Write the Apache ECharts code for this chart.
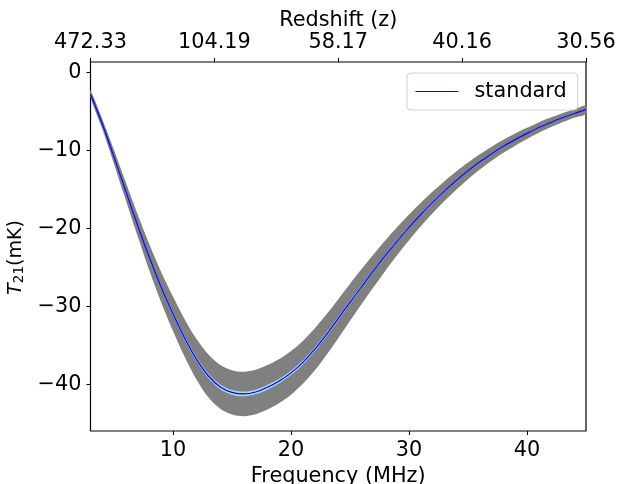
<!DOCTYPE html>
<html>
<head>
<meta charset="utf-8">
<script src="https://cdn.jsdelivr.net/npm/echarts@6/dist/echarts.min.js"></script>
<style>
  html, body { margin: 0; padding: 0; background: #fff; }
  #chart { width: 617px; height: 484px; }
</style>
</head>
<body>
<div id="chart"></div>
<script>
// frequency grid (MHz)
var freq = [3, 4, 5, 6, 7, 8, 9, 10, 11, 12, 13, 14, 15, 16, 17, 18, 19, 20, 21, 22, 23, 24,
  25, 26, 27, 28, 29, 30, 31, 32, 33, 34, 35, 36, 37, 38, 39, 40, 41, 42, 43, 44, 45];
// standard T21 (mK)
var t21 = [-2.8, -6.65, -10.9, -15.3, -19.65, -23.8, -27.6, -31.0, -34.15, -36.85, -38.95,
  -40.35, -41.05, -41.25, -41.0, -40.4, -39.6, -38.55, -37.2, -35.55, -33.65, -31.6, -29.5,
  -27.45, -25.45, -23.5, -21.65, -19.9, -18.25, -16.7, -15.25, -13.9, -12.65, -11.5, -10.45,
  -9.5, -8.65, -7.85, -7.1, -6.45, -5.85, -5.3, -4.8];
// half width of the grey band (mK)
var grayHalf = [0.45, 0.65, 0.9, 1.15, 1.4, 1.7, 1.95, 2.2, 2.4, 2.6, 2.75, 2.8, 2.85, 2.85, 2.85,
  2.85, 2.82, 2.8, 2.75, 2.7, 2.6, 2.5, 2.38, 2.25, 2.1, 1.95, 1.8, 1.66, 1.52, 1.4, 1.28, 1.17,
  1.07, 0.98, 0.9, 0.83, 0.77, 0.71, 0.66, 0.62, 0.58, 0.55, 0.52];
// half width of the light blue band (mK)
var blueHalf = [0.03, 0.06, 0.09, 0.12, 0.15, 0.18, 0.2, 0.22, 0.24, 0.26, 0.28, 0.29, 0.3,
  0.3, 0.3, 0.3, 0.29, 0.28, 0.27, 0.26, 0.24, 0.22, 0.21, 0.2, 0.18, 0.17, 0.16, 0.15,
  0.14, 0.13, 0.12, 0.11, 0.1, 0.09, 0.08, 0.08, 0.07, 0.06, 0.06, 0.05, 0.05, 0.05, 0.04];

var xTicks = [10, 20, 30, 40];
var yTicks = [0, -10, -20, -30, -40];
var zTickFreq = [3, 13.5, 24, 34.5, 45];
var zTickLabels = ["472.33", "104.19", "58.17", "40.16", "30.56"];

var FONT = "DejaVu Sans";
var FS = 20.8;

function pairs(vals) {
  return freq.map(function (f, i) { return [f, vals[i]]; });
}
function offset(vals, half, sign) {
  return vals.map(function (v, i) { return v + sign * half[i]; });
}

function minus(v) {
  return v < 0 ? "\u2212" + (-v) : String(v);
}

// filled band between two curves, drawn as one polygon
function band(name, low, high, color) {
  return {
    name: name,
    type: "custom",
    coordinateSystem: "cartesian2d",
    data: [[freq[0], low[0]]],
    clip: true,
    silent: true,
    z: 2,
    renderItem: function (params, api) {
      var pts = [];
      for (var i = 0; i < freq.length; i++) pts.push(api.coord([freq[i], high[i]]));
      for (var j = freq.length - 1; j >= 0; j--) pts.push(api.coord([freq[j], low[j]]));
      return {
        type: "polygon",
        shape: { points: pts, smooth: 0.3 },
        style: { fill: color, stroke: null }
      };
    }
  };
}

var tickStyle = { color: "#000", width: 1 };

var chart = echarts.init(document.getElementById("chart"));
chart.setOption({
  animation: false,
  backgroundColor: "#fff",
  textStyle: { fontFamily: FONT, color: "#000" },
  grid: {
    left: 90.5, right: 31, top: 62, bottom: 53,
    outerBoundsMode: "none",
    show: true, borderColor: "#000", borderWidth: 1.2, backgroundColor: "transparent"
  },
  legend: {
    data: ["standard"],
    left: 407, top: 73,
    padding: [8, 11, 8, 8],
    itemWidth: 43, itemHeight: 14,
    itemStyle: { opacity: 0 },
    lineStyle: { color: "#0000ff", width: 1 },
    backgroundColor: "rgba(255,255,255,0.8)",
    borderColor: "#d0d0d0", borderWidth: 1, borderRadius: 4,
    textStyle: { fontFamily: FONT, fontSize: FS, color: "#000", padding: [0, 0, 0, 11] }
  },
  xAxis: [
    {
      type: "value", position: "bottom", min: 3, max: 45,
      name: "Frequency (MHz)", nameLocation: "middle", nameGap: 35,
      nameTextStyle: { fontFamily: FONT, fontSize: FS, color: "#000" },
      axisLine: { show: false, onZero: false },
      splitLine: { show: false },
      axisTick: { show: true, length: 4, customValues: xTicks, lineStyle: tickStyle },
      axisLabel: { customValues: xTicks, margin: 9, fontFamily: FONT, fontSize: FS, color: "#000" }
    },
    {
      type: "value", position: "top", min: 3, max: 45,
      name: "Redshift (z)", nameLocation: "middle", nameGap: 41, nameMoveOverlap: false,
      nameTextStyle: { fontFamily: FONT, fontSize: FS, color: "#000", verticalAlign: "middle" },
      axisLine: { show: false, onZero: false },
      splitLine: { show: false },
      axisTick: { show: true, length: 4, customValues: zTickFreq, lineStyle: tickStyle },
      axisLabel: {
        customValues: zTickFreq, margin: 9, fontFamily: FONT, fontSize: FS, color: "#000",
        formatter: function (v) {
          var i = zTickFreq.indexOf(v);
          return i >= 0 ? zTickLabels[i] : "";
        }
      }
    }
  ],
  yAxis: {
    type: "value", min: -46, max: 1.3,
    name: "{i|T}{s|21}{n|(mK)}", nameLocation: "middle", nameGap: 52, nameRotate: 90,
    nameTextStyle: {
      padding: [0, 22, 0, 0],
      rich: {
        i: { fontFamily: FONT, fontSize: 19, fontStyle: "italic", color: "#000" },
        s: { fontFamily: FONT, fontSize: 13.5, color: "#000", padding: [8, 0, 0, 0] },
        n: { fontFamily: FONT, fontSize: 19, color: "#000" }
      }
    },
    axisLine: { show: false, onZero: false },
    splitLine: { show: false },
    axisTick: { show: true, length: 4, customValues: yTicks, lineStyle: tickStyle },
    axisLabel: { customValues: yTicks, margin: 9, fontFamily: FONT, fontSize: FS, color: "#000", formatter: minus }
  },
  series: [
    band("grayBand", offset(t21, grayHalf, -1), offset(t21, grayHalf, 1), "#808080"),
    band("blueBand", offset(t21, blueHalf, -1), offset(t21, blueHalf, 1), "#add8e6"),
    {
      name: "standard",
      type: "line",
      data: pairs(t21),
      smooth: 0.3,
      symbol: "none",
      color: "#0000ff",
      itemStyle: { color: "#0000ff" },
      lineStyle: { color: "#0000ff", width: 1.2 },
      z: 3
    }
  ]
});
</script>
</body>
</html>
